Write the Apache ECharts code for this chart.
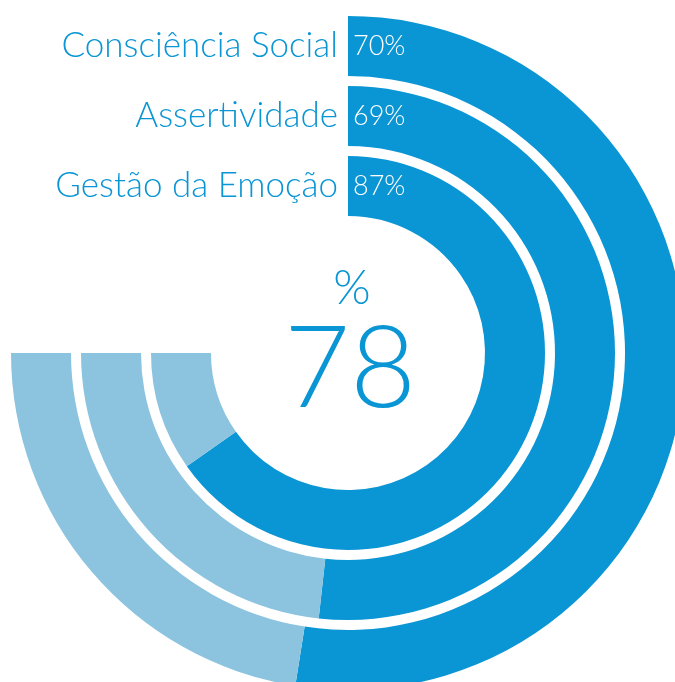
<!DOCTYPE html>
<html>
<head>
<meta charset="utf-8">
<script src="https://cdn.jsdelivr.net/npm/echarts@6/dist/echarts.min.js"></script>
<style>
  html, body { margin: 0; padding: 0; background: #fff; }
  #chart { width: 675px; height: 682px; }
</style>
</head>
<body>
<div id="chart"></div>
<script>
// inner ring first, outer ring last
const categories = ['Gestão da Emoção', 'Assertividade', 'Consciência Social'];
const scores = [87, 69, 70];
const total = 78;

const dark = '#0a95d4', light = '#8cc4e0';
const font = 'Lato';
const rest = scores.map(v => 100 - v);

const chart = echarts.init(document.getElementById('chart'));
chart.setOption({
  animation: false,
  polar: { center: [348, 353], radius: [132, 342] },
  angleAxis: {
    type: 'value', min: 0, max: 100 * 360 / 270,
    startAngle: 90, clockwise: true,
    show: false
  },
  radiusAxis: {
    type: 'category', data: categories,
    axisLine: { show: false }, axisTick: { show: false }, splitLine: { show: false },
    axisLabel: {
      show: true, interval: 0, hideOverlap: false,
      color: dark, fontFamily: font, fontWeight: 300, fontSize: 35,
      margin: 10
    }
  },
  series: [
    {
      type: 'bar', coordinateSystem: 'polar', stack: 'a', barWidth: 60,
      data: scores, itemStyle: { color: dark },
      label: {
        show: true, position: 'insideStart', color: '#fff',
        fontFamily: font, fontWeight: 300, fontSize: 27,
        formatter: p => p.value + '%'
      }
    },
    {
      type: 'bar', coordinateSystem: 'polar', stack: 'a', barWidth: 60,
      data: rest, itemStyle: { color: light }
    }
  ],
  graphic: [
    {
      type: 'text', x: 352, y: 289,
      style: { text: '%', fill: dark, font: '300 48px ' + font, align: 'center', verticalAlign: 'middle' }
    },
    {
      type: 'text', x: 350, y: 370,
      style: { text: String(total), fill: dark, font: '300 114px ' + font, align: 'center', verticalAlign: 'middle' }
    }
  ]
});
</script>
</body>
</html>
